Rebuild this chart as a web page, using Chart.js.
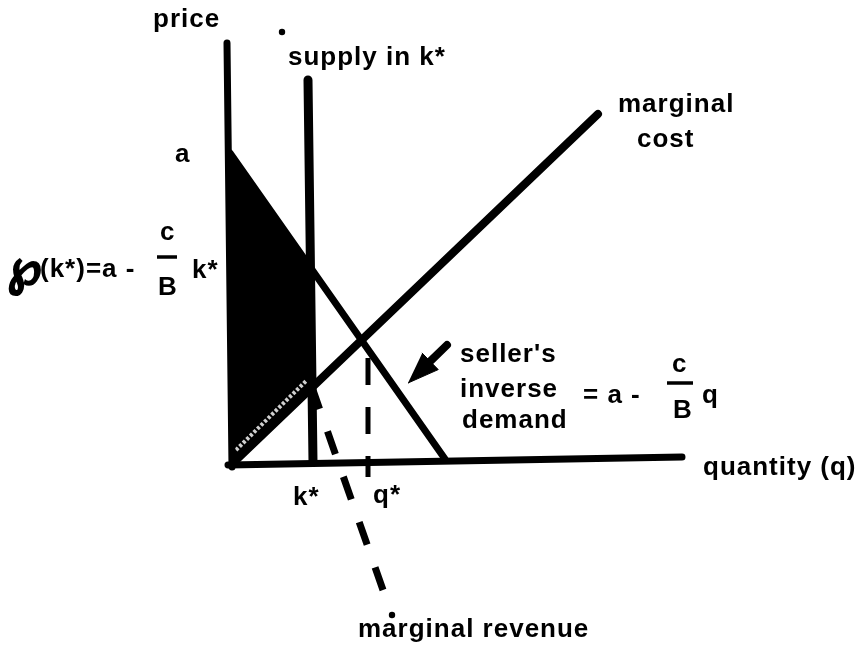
<!DOCTYPE html>
<html><head><meta charset="utf-8">
<script src="https://cdn.jsdelivr.net/npm/chart.js@4/dist/chart.umd.min.js"></script>
<style>html,body{margin:0;padding:0;background:#fff;}canvas{display:block;}</style>
</head><body>
<canvas id="c" width="868" height="647"></canvas>
<script>
// ---- chart values (quantity on x, price on y) ----
const priceAxis       = [{x:0.1,y:-0.5},{x:-0.4,y:41.9}];
const quantityAxis    = [{x:-0.3,y:-0.3},{x:45.1,y:0.5}];
const supplyInKStar   = [{x:7.7,y:38.2},{x:8.2,y:0}];
const inverseDemand   = [{x:-0.1,y:30.9},{x:21.4,y:0.3}];
const marginalCost    = [{x:0.2,y:-0.1},{x:36.7,y:34.8}];
const marginalRevenue = [{x:15.2,y:-12.8},{x:-0.1,y:30.9}];
const qStarMarker     = [{x:13.7,y:10.4},{x:13.7,y:-1.5}];
const shadedArea      = [{x:0,y:30.8},{x:8.0,y:19.5},{x:8.0,y:7.4},{x:0.2,y:-0.1}];
const speckleEdge     = [{x:0.5,y:1.2},{x:7.5,y:8.1}];
const arrowTail       = {x:21.6,y:11.7};
const arrowTip        = {x:17.7,y:7.9};

// tick / annotation labels
const labels = [
  {t:'price', x:-7.8, y:43.5},
  {t:'supply in k*', x:5.7, y:39.7},
  {t:'a', x:-5.6, y:30.0},
  {t:'(k*)=a -', x:-19.1, y:18.5},
  {t:'c', x:-7.1, y:22.2},
  {t:'B', x:-7.3, y:16.7},
  {t:'k*', x:-3.9, y:18.4},
  {t:'marginal', x:38.7, y:35.0},
  {t:'cost', x:40.6, y:31.5},
  {t:"seller's", x:22.9, y:10.0},
  {t:'inverse', x:22.9, y:6.5},
  {t:'demand', x:23.1, y:3.4},
  {t:'= a -', x:35.2, y:5.9},
  {t:'c', x:44.1, y:9.0},
  {t:'B', x:44.2, y:4.4},
  {t:'q', x:47.1, y:5.9},
  {t:'quantity (q)', x:47.2, y:-1.3},
  {t:'k*', x:6.2, y:-4.3},
  {t:'q*', x:14.2, y:-4.1},
  {t:'marginal revenue', x:12.7, y:-17.5}
];
const fractionBars = [{x1:-7.4,x2:-5.4,y:20.5},{x1:43.6,x2:46.2,y:7.9}];
const dots = [{x:5.1,y:43.0},{x:16.1,y:-15.3}];

// arrow head from tail/tip
const dx = arrowTip.x-arrowTail.x, dy = arrowTip.y-arrowTail.y, L = Math.hypot(dx,dy);
const ux = dx/L, uy = dy/L, headLen = 3.1, headHalf = 1.15;
const bx = arrowTip.x-ux*headLen, by = arrowTip.y-uy*headLen;
const arrowHead = [arrowTip,{x:bx-uy*headHalf,y:by+ux*headHalf},{x:bx+uy*headHalf,y:by-ux*headHalf}];
const arrowShaft = [arrowTail,{x:bx+ux*0.3,y:by+uy*0.3}];

const line = (data, w, order, extra) => Object.assign({
  data, showLine:true, pointRadius:0, borderColor:'#000', backgroundColor:'#000',
  borderWidth:w, borderCapStyle:'round', borderJoinStyle:'round', tension:0, fill:false, order
}, extra||{});

const textPlugin = {
  id:'texts',
  afterDatasetsDraw(chart){
    const {ctx, scales:{x,y}} = chart;
    ctx.save();
    ctx.fillStyle = '#000';
    ctx.strokeStyle = '#000';
    ctx.textBaseline = 'alphabetic';
    ctx.textAlign = 'left';
    ctx.font = 'bold 26px "Liberation Sans", Arial, sans-serif';
    ctx.letterSpacing = '1px';
    labels.forEach(l => ctx.fillText(l.t, x.getPixelForValue(l.x), y.getPixelForValue(l.y)));
    ctx.letterSpacing = '0px';
    // script p
    ctx.font = 'bold 50px "DejaVu Sans", sans-serif';
    ctx.lineWidth = 2;
    const px = x.getPixelForValue(-22.4), py = y.getPixelForValue(17.8);
    ctx.fillText('\u2118', px, py);
    ctx.strokeText('\u2118', px, py);
    ctx.lineWidth = 3.5;
    fractionBars.forEach(b => {
      ctx.beginPath();
      ctx.moveTo(x.getPixelForValue(b.x1), y.getPixelForValue(b.y));
      ctx.lineTo(x.getPixelForValue(b.x2), y.getPixelForValue(b.y));
      ctx.stroke();
    });
    dots.forEach(d => {
      ctx.beginPath();
      ctx.arc(x.getPixelForValue(d.x), y.getPixelForValue(d.y), 3.2, 0, Math.PI*2);
      ctx.fill();
    });
    ctx.restore();
  }
};

new Chart(document.getElementById('c'), {
  type:'scatter',
  data:{datasets:[
    line(priceAxis, 7, 0),
    line(quantityAxis, 7, 0),
    line(supplyInKStar, 9, 1),
    line(inverseDemand, 7, 2),
    line(marginalCost, 8, 3),
    line(speckleEdge, 4, 4, {borderColor:'#d0d0d0', borderDash:[3,2], borderCapStyle:'butt'}),
    line(shadedArea, 0, 5, {fill:'shape', borderWidth:0}),
    line(marginalRevenue, 7, 6, {borderDash:[24,24], borderCapStyle:'butt'}),
    line(qStarMarker, 5, 7, {borderDash:[27,22], borderCapStyle:'butt'}),
    line(arrowShaft, 8, 0),
    line(arrowHead, 1, 0, {fill:'shape'})
  ]},
  options:{
    responsive:false, maintainAspectRatio:false, devicePixelRatio:1, animation:false,
    layout:{padding:0},
    plugins:{legend:{display:false}, tooltip:{enabled:false}, title:{display:false}},
    scales:{
      x:{type:'linear', min:-23.1, max:63.7, display:false},
      y:{type:'linear', min:-18.5, max:46.2, display:false}
    }
  },
  plugins:[textPlugin]
});
</script>
</body></html>
